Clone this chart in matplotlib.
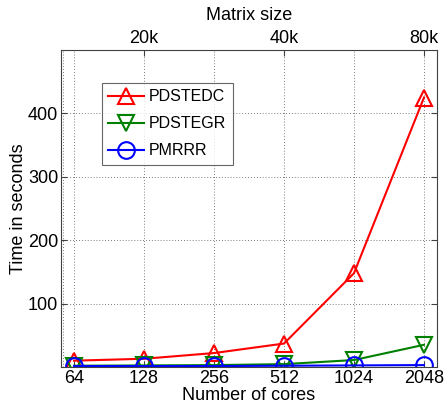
import matplotlib
matplotlib.use("Agg")
import matplotlib.pyplot as plt

cores = ["64", "128", "256", "512", "1024", "2048"]
matrix_ticks_pos = [1, 3, 5]
matrix_labels = ["20k", "40k", "80k"]
pdstedc = [10, 13, 22, 37, 148, 425]
pdstegr = [2, 2.5, 3, 4.5, 11, 35]
pmrrr = [1.5, 1.5, 1.5, 2, 2.5, 3]

plt.rcParams['font.family'] = ['Liberation Sans', 'DejaVu Sans']
FS = 13

fig = plt.figure(figsize=(4.44, 4.07), dpi=100)
ax = fig.add_axes([61/444, 40/407, 376/444, 317/407])
x = list(range(len(cores)))

kw = dict(lw=1.5, ms=12, mfc='none', mew=1.5)
ax.plot(x, pdstedc, color='#ff0000', marker='^', label='PDSTEDC', **kw)
ax.plot(x, pdstegr, color='#008000', marker='v', label='PDSTEGR', **kw)
ax.plot(x, pmrrr, color='#0000ff', marker='o', label='PMRRR', **kw)

ax.set_xlim(-0.186, 5.186)
ax.set_ylim(0, 500)
ax.set_xticks(x)
ax.set_xticklabels(cores)
ax.set_yticks([100, 200, 300, 400])
ax.tick_params(direction='in', labelsize=FS, length=4, color='#404040',
               right=True, top=False, pad=2)
ax.grid(True, linestyle=(0, (1, 2.5)), color='#505050', linewidth=0.6)
ax.axvline(-0.157, linestyle=(0, (1, 2.5)), color='#505050', linewidth=0.6, zorder=0.5)
ax.set_xlabel("Number of cores", fontsize=FS, labelpad=0)
ax.set_ylabel("Time in seconds", fontsize=FS, labelpad=1)
for s in ax.spines.values():
    s.set_color('#404040')
    s.set_linewidth(0.8)

ax2 = ax.twiny()
ax2.set_xlim(ax.get_xlim())
ax2.set_xticks(matrix_ticks_pos)
ax2.set_xticklabels(matrix_labels)
ax2.tick_params(direction='in', labelsize=FS, length=4, color='#404040', pad=2)
ax2.set_xlabel("Matrix size", fontsize=FS, labelpad=7)
for s in ax2.spines.values():
    s.set_visible(False)

leg = ax.legend(loc='upper left', bbox_to_anchor=(0.109, 0.896), fontsize=11.5,
                frameon=True, fancybox=False, edgecolor='#404040',
                handlelength=2.2, borderpad=0.4, labelspacing=0.75, handletextpad=0.35,
                borderaxespad=0)
leg.get_frame().set_linewidth(0.8)

fig.savefig("out.png", dpi=100)
